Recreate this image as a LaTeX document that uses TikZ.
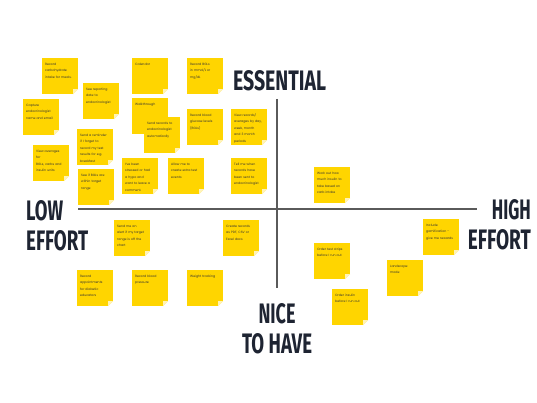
\documentclass[tikz,border=0pt]{standalone}
\usepackage{fontspec}
\setmainfont{Poppins}
\newfontfamily\labelfont{Fira Sans}
\usepackage{tikz}
\usetikzlibrary{calc}
\definecolor{notey}{HTML}{FFD500}
\definecolor{foldy}{HTML}{FFF3B8}
\definecolor{inkblue}{HTML}{1E2432}
\definecolor{axisgray}{HTML}{5A5A5A}
\hyphenpenalty=10000

\begin{document}
\begin{tikzpicture}[x=1pt, y=-1pt,
    note/.style={fill=notey, anchor=north west, align=left, text width=30pt, text height=3pt, text depth=25pt,
        inner xsep=3pt, inner ysep=4pt, font=\fontsize{3.15}{6.5}\selectfont, text=black!80,
        execute at begin node={\hyphenpenalty=10000 },
        path picture={
            \fill[white] ($(path picture bounding box.south east)+(-5,0)$) -- (path picture bounding box.south east)
                -- ($(path picture bounding box.south east)+(0,-5)$) -- cycle;
            \fill[foldy] ($(path picture bounding box.south east)+(-5,0)$) -- ($(path picture bounding box.south east)+(-5,-5)$)
                -- ($(path picture bounding box.south east)+(0,-5)$) -- cycle;
        }},
    heading/.style={inner sep=0pt, text=inkblue, font=\fontsize{20}{30}\selectfont},
    axis/.style={draw=axisgray, line width=1.1pt}
]
    \useasboundingbox[fill=white] (0,0) rectangle (537,403);

    % Axes
    \coordinate (xleft) at (78,209);
    \coordinate (xright) at (477,209);
    \coordinate (ytop) at (277,99);
    \coordinate (ybottom) at (277,288);
    \draw[axis] (xleft) -- (xright);
    \draw[axis] (ytop) -- (ybottom);

    % Axis headings
    \node[heading, anchor=north] (essential) at (279.5,70) {\resizebox{93pt}{20pt}{\labelfont\bfseries ESSENTIAL}};
    \node[heading, anchor=north west, align=left] (loweffort) at (26,200)
        {\resizebox{37pt}{20pt}{\labelfont\bfseries LOW}\\\resizebox{62pt}{20pt}{\labelfont\bfseries EFFORT}};
    \node[heading, anchor=north east, align=right] (higheffort) at (531,199)
        {\resizebox{39pt}{20pt}{\labelfont\bfseries HIGH}\\\resizebox{63pt}{20pt}{\labelfont\bfseries EFFORT}};
    \node[heading, anchor=north, align=center] (nicetohave) at (277,303)
        {\resizebox{37pt}{20pt}{\labelfont\bfseries NICE}\\\resizebox{70pt}{20pt}{\labelfont\bfseries TO HAVE}};

    % Top left: low effort, essential
    \node[note] (ess1) at (42,58) {Record\\carbohydrate\\intake for meals.};
    \node[note] (ess2) at (83,83) {See reporting\\date to\\endocrinologist};
    \node[note] (ess3) at (23,99) {Capture\\endocrinologist\\name and email};
    \node[note] (ess4) at (77,129) {Send a reminder\\if I forget to\\record my test\\results for e.g.\\breakfast};
    \node[note] (ess5) at (33,145) {View averages\\for\\BGLs, carbs and\\insulin units};
    \node[note] (ess6) at (78,169) {See if BGLs are\\within target\\range};
    \node[note] (ess7) at (132,58) {Calendar};
    \node[note] (ess8) at (187,58) {Record BGLs\\in mmol/L or\\mg/dL};
    \node[note] (ess9) at (132,98) {Walkthrough};
    \node[note] (ess10) at (144,117) {Send records to\\endocrinologist\\automatically};
    \node[note] (ess11) at (187,109) {Record blood\\glucose levels\\(BGLs)};
    \node[note] (ess12) at (231,109) {View records/\\averages by day,\\week, month\\and 3 month\\periods};
    \node[note] (ess13) at (122,158) {I've been\\stressed or had\\a hypo and\\want to leave a\\comment.};
    \node[note] (ess14) at (168,158) {Allow me to\\create extra test\\events};
    \node[note] (ess15) at (231,158) {Tell me when\\records have\\been sent to\\endocrinologist};

    % Bottom left: low effort, nice to have
    \node[note] (nice1) at (114,220) {Send me an\\alert if my target\\range is off the\\chart};
    \node[note] (nice2) at (223,220) {Create records\\as PDF, CSV or\\Excel docs};
    \node[note] (nice3) at (77,270) {Record\\appointments\\for diabetic\\educators};
    \node[note] (nice4) at (132,270) {Record blood\\pressure};
    \node[note] (nice5) at (187,270) {Weight tracking};

    % Right: high effort
    \node[note] (high1) at (314,167) {Work out how\\much insulin to\\take based on\\carb intake};
    \node[note] (high2) at (423,219) {Include\\gamification -\\give me rewards};
    \node[note] (high3) at (314,243) {Order test strips\\before I run out};
    \node[note] (high4) at (387,260) {Landscape\\mode};
    \node[note] (high5) at (332,289) {Order insulin\\before I run out};

\end{tikzpicture}
\end{document}
